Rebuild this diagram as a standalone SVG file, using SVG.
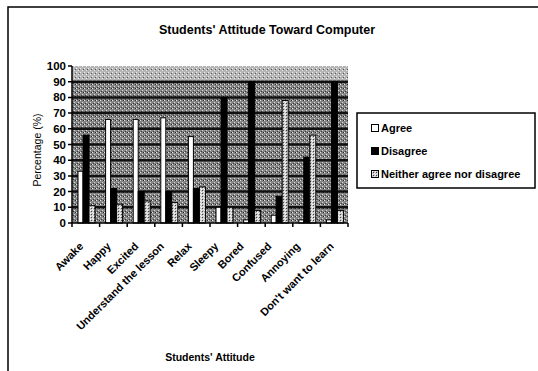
<svg xmlns="http://www.w3.org/2000/svg" width="538" height="371" viewBox="0 0 538 371">
<defs>
<pattern id="bg" width="4" height="4" patternUnits="userSpaceOnUse">
<rect width="4" height="4" fill="#858585"/>
<rect x="0" y="0" width="1" height="1" fill="#e6e6e6"/>
<rect x="2" y="2" width="1" height="1" fill="#d8d8d8"/>
<rect x="3" y="0" width="1" height="1" fill="#2a2a2a"/>
<rect x="1" y="3" width="1" height="1" fill="#3a3a3a"/>
</pattern>
<pattern id="bgTop" width="4" height="4" patternUnits="userSpaceOnUse">
<rect width="4" height="4" fill="#b4b4b4"/>
<rect x="0" y="0" width="1" height="1" fill="#f0f0f0"/>
<rect x="2" y="2" width="1" height="1" fill="#ececec"/>
<rect x="3" y="1" width="1" height="1" fill="#555"/>
</pattern>
<pattern id="nei" width="3" height="3" patternUnits="userSpaceOnUse">
<rect width="3" height="3" fill="#c8c8c8"/>
<rect x="0" y="0" width="1" height="1" fill="#ffffff"/>
<rect x="1" y="1" width="1" height="1" fill="#444"/>
<rect x="2" y="2" width="1" height="1" fill="#f4f4f4"/>
</pattern>
</defs>
<style>
.t{font-family:"Liberation Sans",Arial,sans-serif;fill:#000}
.b{font-weight:bold}
.ag{fill:#fff;stroke:#000;stroke-width:1}
.di{fill:#000;stroke:#000;stroke-width:1}
.ne{fill:url(#nei);stroke:#000;stroke-width:1}
.grid{stroke:#111;stroke-width:2.5}
.ax{stroke:#000;stroke-width:1.5;fill:none}
</style>
<rect x="0" y="0" width="538" height="371" fill="#fff"/>
<rect x="8" y="7" width="540" height="380" fill="none" stroke="#000" stroke-width="1.5"/>
<text class="t b" x="267" y="34" font-size="12.5" text-anchor="middle">Students' Attitude Toward Computer</text>

<g id="plot">
<rect x="72" y="66" width="276" height="157" fill="url(#bg)"/>
<rect x="72" y="66" width="276" height="15.7" fill="url(#bgTop)"/>
<g id="gridlines">
<line class="grid" x1="72" y1="81.7" x2="348" y2="81.7"/>
<line class="grid" x1="72" y1="97.4" x2="348" y2="97.4"/>
<line class="grid" x1="72" y1="113.1" x2="348" y2="113.1"/>
<line class="grid" x1="72" y1="128.8" x2="348" y2="128.8"/>
<line class="grid" x1="72" y1="144.5" x2="348" y2="144.5"/>
<line class="grid" x1="72" y1="160.2" x2="348" y2="160.2"/>
<line class="grid" x1="72" y1="175.9" x2="348" y2="175.9"/>
<line class="grid" x1="72" y1="191.6" x2="348" y2="191.6"/>
<line class="grid" x1="72" y1="207.3" x2="348" y2="207.3"/>
</g>
</g>

<g id="bars">
<g id="cat-awake">
<rect class="ag" x="78" y="171.2" width="5" height="51.8"/>
<rect class="di" x="83" y="135.1" width="6" height="87.9"/>
<rect class="ne" x="89" y="205.7" width="6" height="17.3"/>
</g>
<g id="cat-happy">
<rect class="ag" x="105.6" y="119.4" width="5" height="103.6"/>
<rect class="di" x="110.6" y="188.5" width="6" height="34.5"/>
<rect class="ne" x="116.6" y="204.2" width="6" height="18.8"/>
</g>
<g id="cat-excited">
<rect class="ag" x="133.2" y="119.4" width="5" height="103.6"/>
<rect class="di" x="138.2" y="191.6" width="6" height="31.4"/>
<rect class="ne" x="144.2" y="201" width="6" height="22"/>
</g>
<g id="cat-understand">
<rect class="ag" x="160.8" y="117.8" width="5" height="105.2"/>
<rect class="di" x="165.8" y="191.6" width="6" height="31.4"/>
<rect class="ne" x="171.8" y="202.6" width="6" height="20.4"/>
</g>
<g id="cat-relax">
<rect class="ag" x="188.4" y="136.6" width="5" height="86.4"/>
<rect class="di" x="193.4" y="188.5" width="6" height="34.5"/>
<rect class="ne" x="199.4" y="186.9" width="6" height="36.1"/>
</g>
<g id="cat-sleepy">
<rect class="ag" x="216" y="207.3" width="5" height="15.7"/>
<rect class="di" x="221" y="97.4" width="6" height="125.6"/>
<rect class="ne" x="227" y="207.3" width="6" height="15.7"/>
</g>
<g id="cat-bored">
<rect class="ag" x="243.6" y="219.9" width="5" height="3.1"/>
<rect class="di" x="248.6" y="81.7" width="6" height="141.3"/>
<rect class="ne" x="254.6" y="210.4" width="6" height="12.6"/>
</g>
<g id="cat-confused">
<rect class="ag" x="271.2" y="215.2" width="5" height="7.8"/>
<rect class="di" x="276.2" y="196.3" width="6" height="26.7"/>
<rect class="ne" x="282.2" y="100.5" width="6" height="122.5"/>
</g>
<g id="cat-annoying">
<rect class="ag" x="298.8" y="219.9" width="5" height="3.1"/>
<rect class="di" x="303.8" y="157.1" width="6" height="65.9"/>
<rect class="ne" x="309.8" y="135.1" width="6" height="87.9"/>
</g>
<g id="cat-dontwant">
<rect class="ag" x="326.4" y="219.9" width="5" height="3.1"/>
<rect class="di" x="331.4" y="81.7" width="6" height="141.3"/>
<rect class="ne" x="337.4" y="210.4" width="6" height="12.6"/>
</g>
</g>

<g id="axes">
<path class="ax" d="M72 66 V223 H348"/>
<path class="ax" d="M68 66H72M68 81.7H72M68 97.4H72M68 113.1H72M68 128.8H72M68 144.5H72M68 160.2H72M68 175.9H72M68 191.6H72M68 207.3H72M68 223H72"/>
<path class="ax" d="M72 223V227M99.6 223V227M127.2 223V227M154.8 223V227M182.4 223V227M210 223V227M237.6 223V227M265.2 223V227M292.8 223V227M320.4 223V227M348 223V227"/>
</g>

<g id="ylabels" class="t b" font-size="11.5" text-anchor="end">
<text x="66" y="70">100</text>
<text x="66" y="85.7">90</text>
<text x="66" y="101.4">80</text>
<text x="66" y="117.1">70</text>
<text x="66" y="132.8">60</text>
<text x="66" y="148.5">50</text>
<text x="66" y="164.2">40</text>
<text x="66" y="179.9">30</text>
<text x="66" y="195.6">20</text>
<text x="66" y="211.3">10</text>
<text x="66" y="227">0</text>
</g>
<text class="t" font-size="10.5" text-anchor="middle" transform="translate(41,150) rotate(-90)">Percentage (%)</text>

<g id="xlabels" class="t b" font-size="11" text-anchor="end">
<text transform="translate(84,247) rotate(-45)">Awake</text>
<text transform="translate(111.6,247) rotate(-45)">Happy</text>
<text transform="translate(139.2,247) rotate(-45)">Excited</text>
<text transform="translate(164.8,247) rotate(-45)">Understand the lesson</text>
<text transform="translate(192.4,247) rotate(-45)">Relax</text>
<text transform="translate(219,247) rotate(-45)">Sleepy</text>
<text transform="translate(244.6,247) rotate(-45)">Bored</text>
<text transform="translate(272.2,247) rotate(-45)">Confused</text>
<text transform="translate(300.8,247) rotate(-45)">Annoying</text>
<text transform="translate(334.4,247) rotate(-45)">Don't want to learn</text>
</g>
<text class="t b" x="210" y="361" font-size="10.5" text-anchor="middle">Students' Attitude</text>

<g id="legend">
<rect x="357" y="113" width="178" height="75" fill="#fff" stroke="#000" stroke-width="1.5"/>
<rect class="ag" x="371.5" y="124.5" width="7" height="7"/>
<text class="t b" x="381" y="132" font-size="11">Agree</text>
<rect class="di" x="371.5" y="147.5" width="7" height="7"/>
<text class="t b" x="381" y="155" font-size="11">Disagree</text>
<rect class="ne" x="371.5" y="170.5" width="7" height="7"/>
<text class="t b" x="381" y="178" font-size="11">Neither agree nor disagree</text>
</g>
</svg>
